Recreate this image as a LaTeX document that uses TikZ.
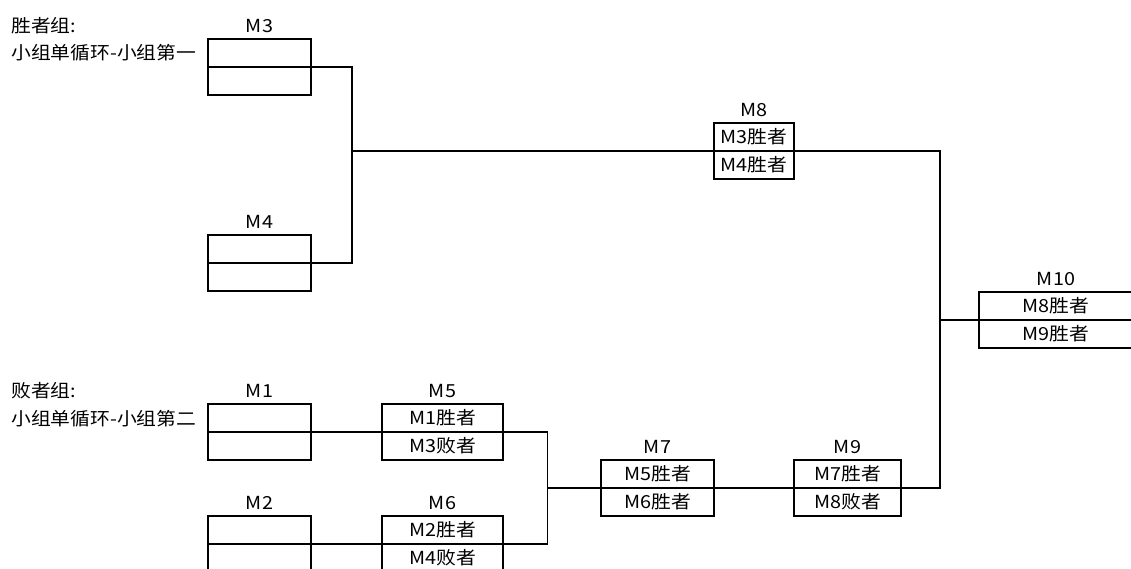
\documentclass[tikz,border=0pt]{standalone}
\usepackage{fontspec}
\setmainfont[FakeStretch=1.1]{Noto Sans CJK SC}
\begin{document}
\begin{tikzpicture}[x=1pt,y=-1pt,
  every node/.style={font=\fontsize{18}{21}\selectfont, inner sep=0pt},
  mbox/.style={draw, line width=1.8pt, minimum height=56pt},
  rowtxt/.style={anchor=base},
  lbl/.style={anchor=base},
  side/.style={anchor=base west},
  conn/.style={line width=1.1pt},
  mid/.style={line width=1.8pt}]
\useasboundingbox (0,0) rectangle (1131,568);
\clip (0,0) rectangle (1131,568);
\fill[white] (0,0) rectangle (1131,568);

% side texts
\node[side] (t1) at (11,32) {胜者组:};
\node[side] (t2) at (11,59) {小组单循环-小组第一};
\node[side] (t3) at (11,397) {败者组:};
\node[side] (t4) at (11,425) {小组单循环-小组第二};

% boxes
\node[mbox, minimum width=103pt] (m3) at (259.5,67) {};
\node[mbox, minimum width=103pt] (m4) at (259.5,263) {};
\node[mbox, minimum width=80pt] (m8) at (754,151) {};
\node[mbox, minimum width=154pt] (m10) at (1056,320) {};
\node[mbox, minimum width=103pt] (m1) at (259.5,432) {};
\node[mbox, minimum width=103pt] (m2) at (259.5,544) {};
\node[mbox, minimum width=121pt] (m5) at (442.5,432) {};
\node[mbox, minimum width=121pt] (m6) at (442.5,544) {};
\node[mbox, minimum width=113pt] (m7) at (657.5,488) {};
\node[mbox, minimum width=107pt] (m9) at (847.5,488) {};

% labels above boxes
\node[lbl] (l3) at ([yshift=6pt]m3.north) {M3};
\node[lbl] (l4) at ([yshift=6pt]m4.north) {M4};
\node[lbl] (l8) at ([yshift=6pt]m8.north) {M8};
\node[lbl] (l10) at ([yshift=6pt]m10.north) {M10};
\node[lbl] (l1) at ([yshift=6pt]m1.north) {M1};
\node[lbl] (l2) at ([yshift=6pt]m2.north) {M2};
\node[lbl] (l5) at ([yshift=6pt]m5.north) {M5};
\node[lbl] (l6) at ([yshift=6pt]m6.north) {M6};
\node[lbl] (l7) at ([yshift=6pt]m7.north) {M7};
\node[lbl] (l9) at ([yshift=6pt]m9.north) {M9};

% row texts
\node[rowtxt] (r8a) at ([yshift=7.5pt]m8.center) {M3胜者};
\node[rowtxt] (r8b) at ([yshift=-20.5pt]m8.center) {M4胜者};
\node[rowtxt] (r10a) at ([yshift=7.5pt]m10.center) {M8胜者};
\node[rowtxt] (r10b) at ([yshift=-20.5pt]m10.center) {M9胜者};
\node[rowtxt] (r5a) at ([yshift=7.5pt]m5.center) {M1胜者};
\node[rowtxt] (r5b) at ([yshift=-20.5pt]m5.center) {M3败者};
\node[rowtxt] (r6a) at ([yshift=7.5pt]m6.center) {M2胜者};
\node[rowtxt] (r6b) at ([yshift=-20.5pt]m6.center) {M4败者};
\node[rowtxt] (r7a) at ([yshift=7.5pt]m7.center) {M5胜者};
\node[rowtxt] (r7b) at ([yshift=-20.5pt]m7.center) {M6胜者};
\node[rowtxt] (r9a) at ([yshift=7.5pt]m9.center) {M7胜者};
\node[rowtxt] (r9b) at ([yshift=-20.5pt]m9.center) {M8败者};

% middle lines of upper boxes
\draw[mid] (m3.west) -- (m3.east);
\draw[mid] (m4.west) -- (m4.east);
\draw[mid] (m8.west) -- (m8.east);
\draw[mid] (m10.west) -- (m10.east);

% junctions
\coordinate (j1) at (352,151);
\coordinate (j2) at (940,320);
\coordinate (j3) at (547.5,488);

% connectors
\draw[conn] (m3.east) -| (j1) |- (m4.east);
\draw[conn] (j1) -- (m8.west);
\draw[conn] (m8.east) -| (j2);
\draw[conn] (m9.east) -| (j2);
\draw[conn] (j2) -- (m10.west);
\draw[conn] (m1.west) -- (m5.east) -| (j3);
\draw[conn] (m2.west) -- (m6.east) -| (j3);
\draw[conn] (j3) -- (m7.west) -- (m9.east);
\end{tikzpicture}
\end{document}
